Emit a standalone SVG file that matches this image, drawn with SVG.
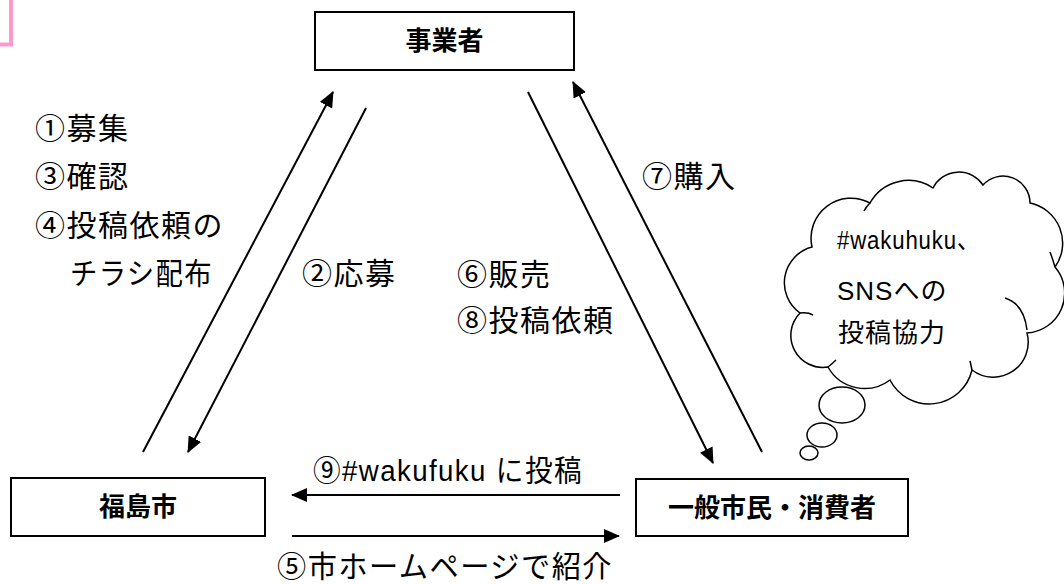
<svg xmlns="http://www.w3.org/2000/svg" width="1064" height="584" viewBox="0 0 1064 584">
<style>
.box{fill:#fff;stroke:#000;stroke-width:2}
.bt{font-family:"Liberation Sans","Noto Sans CJK JP",sans-serif;font-weight:bold;font-size:26px;text-anchor:middle;fill:#000}
.lb{font-family:"Liberation Sans","Noto Sans CJK JP",sans-serif;font-size:30px;letter-spacing:1.5px;fill:#000}
.ct{font-family:"Liberation Sans","Noto Sans CJK JP",sans-serif;font-size:26px;letter-spacing:1px;fill:#000}
.ln{stroke:#000;stroke-width:2;fill:none;marker-end:url(#ah)}
.cl{fill:#fff;stroke:#000;stroke-width:1.5}
</style>
<defs>
<marker id="ah" viewBox="0 0 16 14" refX="15" refY="7" markerWidth="16" markerHeight="14" markerUnits="userSpaceOnUse" orient="auto">
<path d="M0,0 L16,7 L0,14 z" fill="#000"/>
</marker>
</defs>
<rect width="1064" height="584" fill="#fff"/>
<path d="M11,0 V44.5 H0" fill="none" stroke="#ff99cc" stroke-width="4"/>

<g id="connectors">
<line class="ln" x1="143" y1="452" x2="333" y2="92"/>
<line class="ln" x1="366" y1="108" x2="188" y2="452"/>
<line class="ln" x1="528" y1="92" x2="713" y2="463"/>
<line class="ln" x1="762" y1="452" x2="573" y2="82"/>
<line class="ln" x1="620" y1="495" x2="292" y2="495"/>
<line class="ln" x1="292" y1="536" x2="619" y2="536"/>
</g>

<g id="labels">
<text class="lb" x="35" y="139">①募集</text>
<text class="lb" x="35" y="187">③確認</text>
<text class="lb" x="35" y="236">④投稿依頼の</text>
<text class="lb" x="70" y="284" textLength="143" lengthAdjust="spacingAndGlyphs">チラシ配布</text>
<text class="lb" x="302" y="284">②応募</text>
<text class="lb" x="457" y="285">⑥販売</text>
<text class="lb" x="457" y="331">⑧投稿依頼</text>
<text class="lb" x="642" y="187">⑦購入</text>
<text class="lb" x="313" y="481" textLength="270" lengthAdjust="spacingAndGlyphs">⑨#wakufuku に投稿</text>
<text class="lb" x="277" y="577" textLength="336" lengthAdjust="spacingAndGlyphs">⑤市ホームページで紹介</text>
</g>

<g id="node-jigyosha">
<rect class="box" x="315" y="12" width="259" height="58"/>
<text class="bt" x="444.5" y="50">事業者</text>
</g>
<g id="node-fukushima">
<rect class="box" x="11" y="478" width="254" height="58"/>
<text class="bt" x="138" y="516">福島市</text>
</g>
<g id="node-shimin">
<rect class="box" x="636" y="479" width="272" height="57"/>
<text class="bt" x="772" y="517">一般市民・消費者</text>
</g>

<g id="node-cloud">
<path class="cl" d="M812,247 A40,40 0 0 1 870,203 A44,44 0 0 1 933,188 A29,29 0 0 1 983,185 A27,27 0 0 1 1030,203 A41,41 0 0 1 1055,267 A40,40 0 0 1 1027,333 A35,35 0 0 1 972,370 A44,44 0 0 1 890,380 A42,42 0 0 1 828,367 A32,32 0 0 1 800,313 A37,37 0 0 1 812,247 Z"/>
<path d="M1005,298 Q1024,304 1027,330 M970,361 L972,370 M800,313 Q808,312 813,315 M828,367 Q832,364 836,360 M1055,267 Q1052,257 1050,252 M870,203 Q866,207 864,211" fill="none" stroke="#000" stroke-width="1.5"/>
<ellipse class="cl" cx="842" cy="405" rx="23" ry="18"/>
<ellipse class="cl" cx="822" cy="435" rx="15" ry="12"/>
<ellipse class="cl" cx="809" cy="453" rx="9" ry="7"/>
<text class="ct" x="837" y="249" textLength="143" lengthAdjust="spacingAndGlyphs">#wakuhuku、</text>
<text class="ct" x="837" y="300">SNSへの</text>
<text class="ct" x="838" y="342">投稿協力</text>
</g>
</svg>
